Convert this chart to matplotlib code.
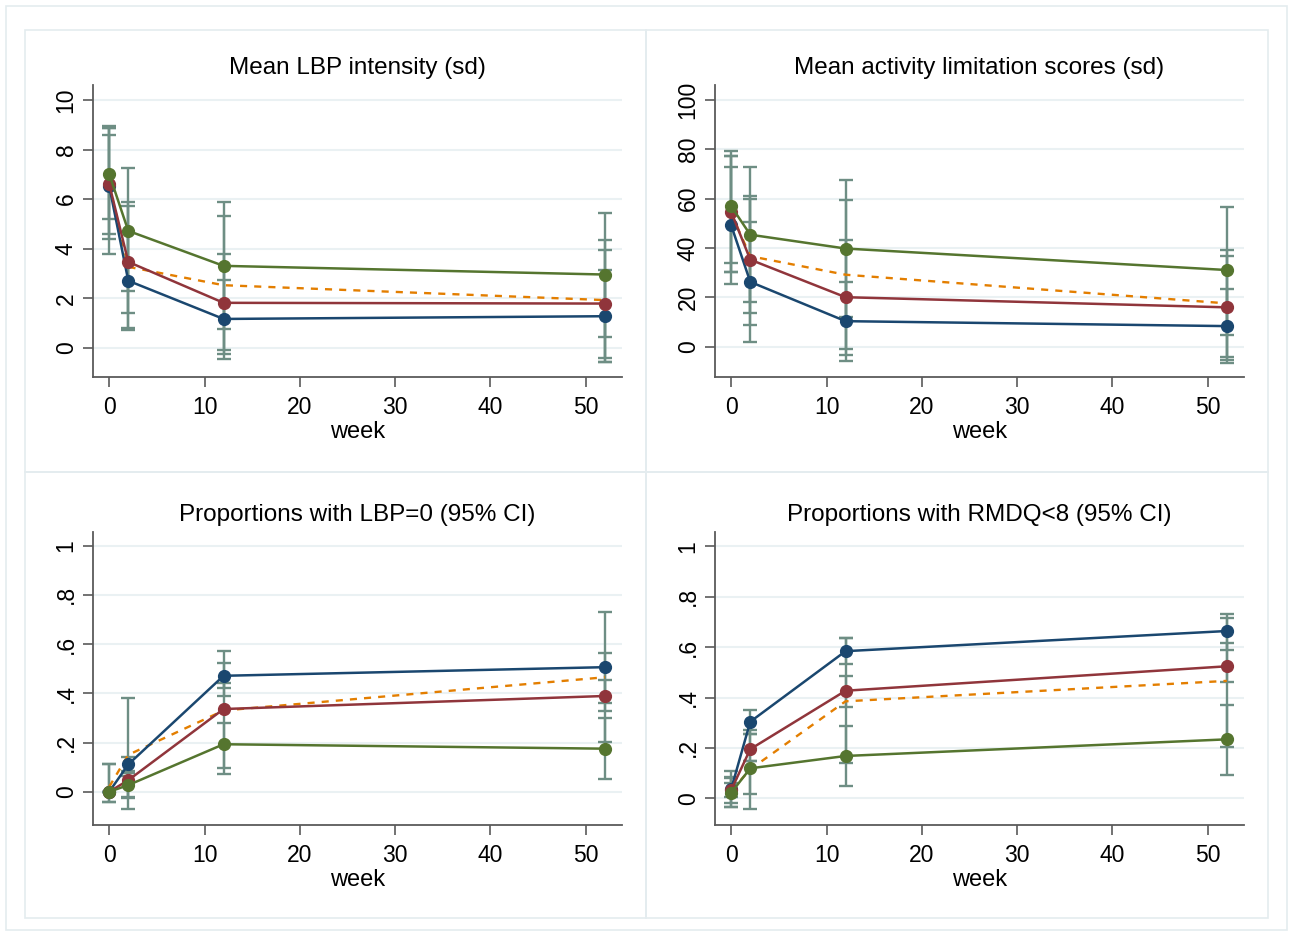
import numpy as np
import matplotlib
matplotlib.use('Agg')
from matplotlib import pyplot as plt
from matplotlib.patches import Rectangle

plt.rcParams['font.family'] = ['Liberation Sans', 'DejaVu Sans']

weeks = [0, 2, 12, 52]

# rows: blue, red, green, orange (dashed)
lbp_mean = [[6.53, 2.71, 1.17, 1.28],
            [6.61, 3.47, 1.82, 1.79],
            [7.01, 4.72, 3.31, 2.96],
            [6.60, 3.27, 2.53, 1.93]]
lbp_lo = [[3.78, 0.74, -0.43, -0.56],
          [4.41, 1.41, -0.23, -0.39],
          [5.18, 2.30, 0.78, 0.44],
          [4.59, 0.80, -0.07, -0.56]]
lbp_hi = [[8.59, 4.68, 2.76, 3.14],
          [8.86, 5.87, 3.78, 3.94],
          [8.95, 7.27, 5.87, 5.43],
          [8.86, 5.72, 5.32, 4.34]]

act_mean = [[49.2, 26.3, 10.4, 8.4],
            [54.6, 35.3, 20.1, 16.0],
            [56.9, 45.4, 39.8, 31.1],
            [54.0, 36.7, 29.2, 17.6]]
act_lo = [[25.3, 1.9, -5.8, -6.5],
          [30.4, 9.0, -3.4, -5.4],
          [34.1, 18.1, 12.0, 5.0],
          [30.4, 13.7, -0.7, -4.0]]
act_hi = [[73.0, 50.5, 26.4, 23.5],
          [77.3, 61.2, 43.2, 36.9],
          [79.1, 72.8, 67.6, 56.5],
          [77.3, 59.7, 59.5, 39.2]]

lbp0_mean = [[0.0, 0.111, 0.471, 0.506],
             [0.0, 0.047, 0.336, 0.389],
             [0.0, 0.027, 0.193, 0.175],
             [0.02, 0.15, 0.33, 0.465]]
lbp0_lo = [[-0.041, -0.072, 0.387, 0.33],
           [0.0, -0.027, 0.095, 0.203],
           [0.0, -0.02, 0.071, 0.05],
           [-0.041, 0.065, 0.421, 0.36]]
lbp0_hi = [[0.113, 0.38, 0.572, 0.732],
           [0.0, 0.143, 0.522, 0.563],
           [0.0, 0.075, 0.278, 0.299],
           [0.113, 0.085, 0.441, 0.454]]

rmdq_mean = [[0.037, 0.304, 0.584, 0.664],
             [0.033, 0.195, 0.427, 0.524],
             [0.022, 0.119, 0.168, 0.234],
             [0.03, 0.115, 0.385, 0.466]]
rmdq_lo = [[-0.036, 0.255, 0.535, 0.588],
           [-0.017, 0.149, 0.363, 0.46],
           [-0.036, -0.044, 0.05, 0.092],
           [0.006, 0.016, 0.141, 0.204]]
rmdq_hi = [[0.109, 0.35, 0.638, 0.733],
           [0.085, 0.27, 0.486, 0.617],
           [0.08, 0.255, 0.287, 0.37],
           [0.06, 0.149, 0.638, 0.717]]

titles = ['Mean LBP intensity (sd)', 'Mean activity limitation scores (sd)',
          'Proportions with LBP=0 (95% CI)', 'Proportions with RMDQ<8 (95% CI)']

colores = ['#1a476f', '#90353b', '#55752f', '#e37e00']
col_err = '#6e8e84'
col_grid = '#eaf1f3'
col_marco = '#e4ecef'

W, H = 1290, 936


def caja(x0, y0, x1, y1):
    # rectangle in pixel coords (y down)
    fig.add_artist(Rectangle((x0 / W, 1 - y1 / H), (x1 - x0) / W, (y1 - y0) / H,
                             transform=fig.transFigure, fill=False,
                             edgecolor=col_marco, lw=1.2))


def panel(rect, medias, lo, hi, titulo, ylim, yticks, yticklabels):
    x0, y0, x1, y1 = rect
    ax = fig.add_axes([x0 / W, 1 - y1 / H, (x1 - x0) / W, (y1 - y0) / H])

    # range caps (rcap style)
    for i in range(4):
        ax.vlines(weeks, lo[i], hi[i], color=col_err, lw=1.7, zorder=2)
        ax.plot(weeks, lo[i], ls='none', marker='_', markersize=10,
                markeredgewidth=1.7, color=col_err, zorder=2)
        ax.plot(weeks, hi[i], ls='none', marker='_', markersize=10,
                markeredgewidth=1.7, color=col_err, zorder=2)

    ax.plot(weeks, medias[3], color=colores[3], lw=1.7, ls=(0, (3, 3)), zorder=3)
    for i in range(3):
        ax.plot(weeks, medias[i], color=colores[i], lw=1.8, marker='o',
                markersize=8.5, zorder=4)

    ax.set_xlim(-1.7, 53.8)
    ax.set_ylim(*ylim)
    ax.set_xticks([0, 10, 20, 30, 40, 50])
    ax.set_yticks(yticks)
    ax.set_yticklabels(yticklabels, rotation=90, va='center')
    ax.yaxis.grid(True, color=col_grid, lw=1.5)
    ax.set_axisbelow(True)

    for s in ['top', 'right']:
        ax.spines[s].set_visible(False)
    for s in ['left', 'bottom']:
        ax.spines[s].set_color('#5a5a5a')
        ax.spines[s].set_linewidth(1.3)
    ax.tick_params(axis='both', colors='#5a5a5a', labelcolor='black',
                   length=7, width=1.2, labelsize=16.5)
    ax.tick_params(axis='x', pad=6.5)
    ax.tick_params(axis='y', pad=4)

    ax.set_xlabel('week', fontsize=17, labelpad=1.5)
    ax.set_title(titulo, fontsize=17.5, pad=8)
    return ax


fig = plt.figure(figsize=(W / 100, H / 100), dpi=100)

caja(6, 6, 1287, 930)
caja(25, 30, 646, 472)
caja(646, 30, 1268, 472)
caja(25, 472, 646, 918)
caja(646, 472, 1268, 918)

yt_p = [0, 0.2, 0.4, 0.6, 0.8, 1]
yl_p = ['0', '.2', '.4', '.6', '.8', '1']

panel((93, 85, 622, 377), lbp_mean, lbp_lo, lbp_hi, titles[0],
      (-1.17, 10.6), [0, 2, 4, 6, 8, 10], ['0', '2', '4', '6', '8', '10'])
panel((715, 85, 1244, 377), act_mean, act_lo, act_hi, titles[1],
      (-12.2, 106), [0, 20, 40, 60, 80, 100], ['0', '20', '40', '60', '80', '100'])
panel((93, 532, 622, 825), lbp0_mean, lbp0_lo, lbp0_hi, titles[2],
      (-0.135, 1.055), yt_p, yl_p)
panel((715, 532, 1244, 825), rmdq_mean, rmdq_lo, rmdq_hi, titles[3],
      (-0.106, 1.057), yt_p, yl_p)

fig.savefig('out.png', dpi=100)
